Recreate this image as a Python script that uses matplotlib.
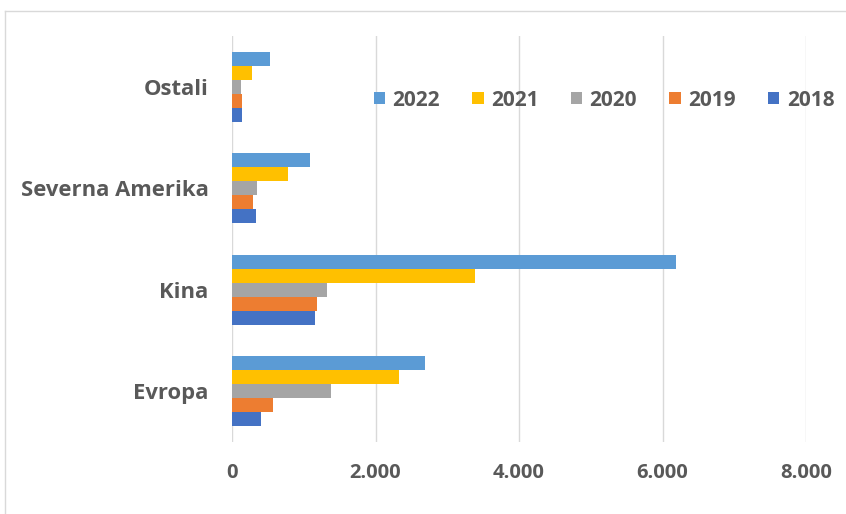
import matplotlib
matplotlib.use("Agg")
import matplotlib.pyplot as plt
import numpy as np
from matplotlib.lines import Line2D

categories = ["Evropa", "Kina", "Severna Amerika", "Ostali"]
years = ["2018", "2019", "2020", "2021", "2022"]
v2018 = [400, 1150, 340, 145]
v2019 = [575, 1185, 295, 145]
v2020 = [1380, 1325, 355, 120]
v2021 = [2325, 3390, 775, 280]
v2022 = [2685, 6185, 1085, 535]
series = [v2018, v2019, v2020, v2021, v2022]
colors = ["#4472C4", "#ED7D31", "#A5A5A5", "#FFC000", "#5B9BD5"]
xticks = [0, 2000, 4000, 6000, 8000]
xticklabels = ["0", "2.000", "4.000", "6.000", "8.000"]

plt.rcParams['font.family'] = ['Open Sans', 'DejaVu Sans']
fig = plt.figure(figsize=(8.46, 5.14), dpi=100)
ax = fig.add_axes([232/846, 1-442/514, (806-232)/846, (442-36)/514])

y = np.arange(len(categories))
h = 0.138
handles = []
for i, (yr, vals, c) in enumerate(zip(years, series, colors)):
    b = ax.barh(y + (i - 2) * h, vals, height=h, color=c, label=yr, zorder=3)
    handles.append(b)

ax.set_xlim(0, 8000)
ax.set_ylim(-0.5, 3.5)
ax.set_yticks(y)
ax.set_yticklabels(categories, fontsize=15.8, fontweight='bold', color='#595959')
ax.set_xticks(xticks)
ax.set_xticklabels(xticklabels, fontsize=14.5, fontweight='bold', color='#595959')
ax.tick_params(axis='y', length=0, pad=17)
ax.tick_params(axis='x', length=0, pad=15)
ax.grid(axis='x', color='#D9D9D9', linewidth=1, zorder=0)
for s in ax.spines.values():
    s.set_visible(False)

leg = ax.legend(handles[::-1], years[::-1], ncol=5, frameon=False,
                loc='center', bbox_to_anchor=((604-232)/574, (442-100)/406),
                prop={'size': 15, 'weight': 'bold'}, handlelength=0.55,
                handleheight=0.55, handletextpad=0.35, columnspacing=1.55)
for t in leg.get_texts():
    t.set_color('#595959')

fig.add_artist(Line2D([5/846, 1], [1-11/514, 1-11/514], transform=fig.transFigure,
                      color='#D9D9D9', linewidth=1))
fig.add_artist(Line2D([5/846, 5/846], [0, 1-11/514], transform=fig.transFigure,
                      color='#D9D9D9', linewidth=1))

fig.savefig("out.png", dpi=100)
